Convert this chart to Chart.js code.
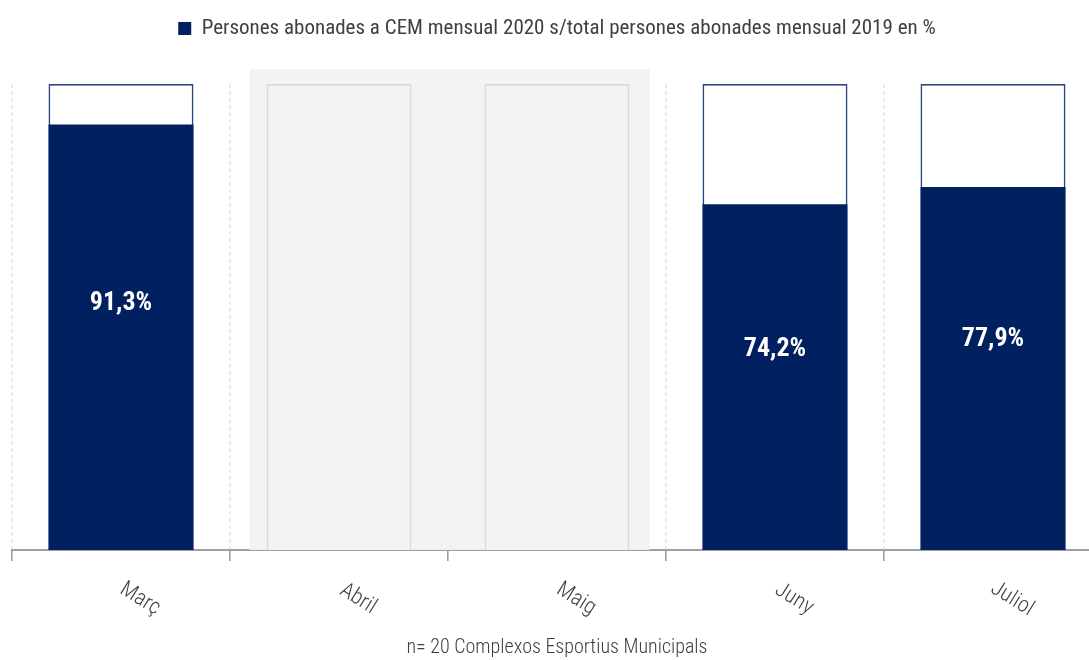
<!DOCTYPE html>
<html>
<head>
<meta charset="utf-8">
<script src="https://cdn.jsdelivr.net/npm/chart.js@4.4.1/dist/chart.umd.min.js"></script>
<style>
  html, body { margin: 0; padding: 0; background: #ffffff; overflow: hidden; }
  #wrap { width: 1112px; height: 660px; }
</style>
</head>
<body>
<div id="wrap"><canvas id="c" width="1112" height="660"></canvas></div>
<script>
const categories = ['Març', 'Abril', 'Maig', 'Juny', 'Juliol'];
const values = [91.3, null, null, 74.2, 77.9];
const totals = [100, 100, 100, 100, 100];
const seriesLabel = 'Persones abonades a CEM mensual 2020 s/total persones abonades mensual 2019 en %';
const footnote = 'n= 20 Complexos Esportius Municipals';

const FONT = '"Roboto Condensed", "Liberation Sans Narrow", sans-serif';
const NAVY = '#002060';
const TEXT = '#404040';

const hasData = values.map(v => v !== null);

const legendGap = {
  id: 'legendGap',
  beforeInit(chart) {
    const orig = chart.legend.fit;
    chart.legend.fit = function () {
      orig.call(this);
      this.height += 35;
    };
  }
};

const shadePlugin = {
  id: 'shade',
  beforeDatasetsDraw(chart) {
    const xs = chart.scales.x, ys = chart.scales.y, ctx = chart.ctx;
    const idx = values.map((v, i) => v === null ? i : -1).filter(i => i >= 0);
    if (!idx.length) return;
    const w = xs.getPixelForValue(1) - xs.getPixelForValue(0);
    const left = xs.getPixelForValue(idx[0]) - 0.41 * w;
    const right = xs.getPixelForValue(idx[idx.length - 1]) + 0.425 * w;
    const top = ys.getPixelForValue(103.2);
    const bottom = ys.getPixelForValue(0);
    ctx.save();
    ctx.fillStyle = 'rgba(242,242,242,0.93)';
    ctx.fillRect(left, top, right - left, bottom - top);
    ctx.restore();
  }
};

const labelPlugin = {
  id: 'labels',
  afterDatasetsDraw(chart) {
    const xs = chart.scales.x, ys = chart.scales.y, ctx = chart.ctx;
    ctx.save();
    ctx.fillStyle = '#ffffff';
    ctx.font = 'bold 26px ' + FONT;
    ctx.textAlign = 'center';
    ctx.textBaseline = 'middle';
    values.forEach((v, i) => {
      if (v === null) return;
      const x = xs.getPixelForValue(i);
      const y = ys.getPixelForValue(v * 0.58);
      ctx.fillText(v.toFixed(1).replace('.', ',') + '%', x, y);
    });
    ctx.fillStyle = TEXT;
    ctx.font = '300 22px ' + FONT;
    const base = ys.getPixelForValue(0);
    categories.forEach((c, i) => {
      const x = xs.getPixelForValue(i) + 19;
      ctx.save();
      ctx.translate(x, base + 49);
      ctx.rotate(32 * Math.PI / 180);
      ctx.fillText(c, 0, 0);
      ctx.restore();
    });
    ctx.restore();
  }
};

new Chart(document.getElementById('c'), {
  type: 'bar',
  data: {
    labels: categories,
    datasets: [
      {
        label: seriesLabel,
        data: values,
        backgroundColor: NAVY,
        borderWidth: 0,
        grouped: false,
        order: 0,
        categoryPercentage: 1,
        barPercentage: 0.665
      },
      {
        label: 'total',
        data: totals,
        backgroundColor: hasData.map(h => h ? '#ffffff' : '#f2f2f2'),
        borderColor: hasData.map(h => h ? '#2a4580' : '#d8d8e2'),
        borderWidth: 1.8,
        grouped: false,
        order: 1,
        categoryPercentage: 1,
        barPercentage: 0.665
      }
    ]
  },
  options: {
    responsive: false,
    animation: false,
    layout: { padding: { left: 12, right: 10, top: 0, bottom: 0 } },
    plugins: {
      legend: {
        display: true,
        position: 'top',
        labels: {
          filter: item => item.datasetIndex === 0,
          boxWidth: 13,
          boxHeight: 13,
          color: TEXT,
          font: { family: FONT, size: 21, weight: 'normal' },
          padding: 18
        }
      },
      title: {
        display: true,
        position: 'bottom',
        text: footnote,
        color: TEXT,
        font: { family: FONT, size: 20, weight: '300' },
        padding: { top: 75, bottom: 0 }
      },
      tooltip: { enabled: false }
    },
    scales: {
      x: {
        offset: true,
        grid: {
          display: true,
          offset: true,
          color: '#d3ecf2',
          lineWidth: 1.6,
          drawOnChartArea: true,
          drawTicks: true,
          tickLength: 11,
          tickColor: '#9a9a9a',
          tickWidth: 1.5
        },
        border: { display: true, color: '#a0a0a0', width: 2, dash: [4, 3] },
        ticks: { display: false }
      },
      y: {
        display: false,
        min: 0,
        max: 100
      }
    }
  },
  plugins: [legendGap, shadePlugin, labelPlugin]
});
</script>
</body>
</html>
